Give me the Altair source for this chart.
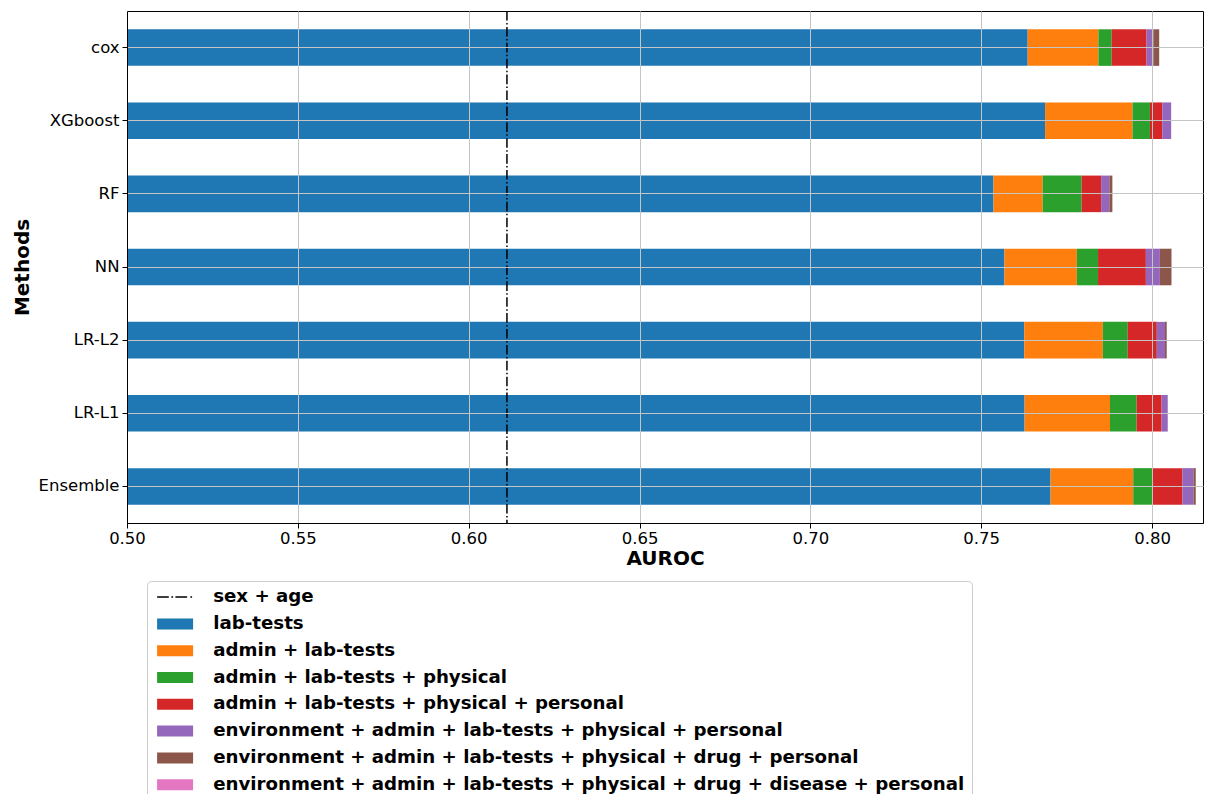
import altair as alt
import pandas as pd

methods = ["cox", "XGboost", "RF", "NN", "LR-L2", "LR-L1", "Ensemble"]

series_names = [
    "sex + age",
    "lab-tests",
    "admin + lab-tests",
    "admin + lab-tests + physical",
    "admin + lab-tests + physical + personal",
    "environment + admin + lab-tests + physical + personal",
    "environment + admin + lab-tests + physical + drug + personal",
    "environment + admin + lab-tests + physical + drug + disease + personal",
]

sex_age = [0.6112]
lab_tests = [0.7636, 0.7687, 0.7536, 0.7568, 0.7626, 0.7627, 0.7703]
admin = [0.7843, 0.7943, 0.7680, 0.7780, 0.7856, 0.7877, 0.7945]
physical = [0.7882, 0.7994, 0.7794, 0.7842, 0.7929, 0.7955, 0.8000]
personal = [0.7984, 0.8030, 0.7851, 0.7982, 0.8014, 0.8028, 0.8089]
environment = [0.8004, 0.8056, 0.7875, 0.8023, 0.8038, 0.8046, 0.8121]
drug = [0.8021, 0.8056, 0.7884, 0.8057, 0.8043, 0.8046, 0.8128]
disease = [0.8021, 0.8056, 0.7884, 0.8057, 0.8043, 0.8046, 0.8128]

colors = ["#000000", "#1f77b4", "#ff7f0e", "#2ca02c", "#d62728",
          "#9467bd", "#8c564b", "#e377c2"]
x_ticks = [0.50, 0.55, 0.60, 0.65, 0.70, 0.75, 0.80]

series_values = [lab_tests, admin, physical, personal, environment, drug, disease]
rows = []
for i, m in enumerate(methods):
    prev = 0.5
    for name, vals in zip(series_names[1:], series_values):
        rows.append({"method": m, "series": name, "x": prev, "x2": vals[i]})
        prev = vals[i]
bars_df = pd.DataFrame(rows)
rule_df = pd.DataFrame({"x": sex_age, "series": [series_names[0]]})

FONT = "DejaVu Sans"

dash_path = "M-1,0H0.95M1.38,0H1.67M2.05,0H4M4.55,0H4.83"
rect_path = "M-1,-0.92H5V0.92H-1Z"
is_sa = "datum.value === 'sex + age'"

legend = alt.Legend(
    orient="none",
    legendX=20,
    legendY=570,
    direction="vertical",
    labelFont=FONT,
    labelFontSize=18.2,
    labelFontWeight="bold",
    labelColor="black",
    labelLimit=1200,
    labelOffset=41,
    rowPadding=7.8,
    padding=7,
    symbolSize=144,
    symbolType=alt.ExprRef(expr=f"{is_sa} ? '{dash_path}' : '{rect_path}'"),
    symbolStrokeColor=alt.ExprRef(expr=f"{is_sa} ? 'black' : 'transparent'"),
    symbolStrokeWidth=alt.ExprRef(expr=f"{is_sa} ? 1.5 : 0"),
    symbolOpacity=1,
    strokeColor="#cccccc",
    cornerRadius=4,
    fillColor="white",
)

x_axis = alt.Axis(
    title="AUROC",
    values=x_ticks,
    format=".2f",
    labelFlush=False,
    labelFont=FONT,
    labelFontSize=16.5,
    labelColor="black",
    labelPadding=2,
    tickSize=5,
    tickColor="black",
    domainColor="black",
    grid=True,
    gridColor="#c4c4c4",
    gridWidth=1,
    titleFont=FONT,
    titleFontSize=20,
    titleFontWeight="bold",
    titleColor="black",
    titlePadding=2,
    zindex=1,
)

y_axis = alt.Axis(
    title="Methods",
    labelFont=FONT,
    labelFontSize=16.5,
    labelColor="black",
    labelPadding=3,
    tickSize=5,
    tickColor="black",
    domainColor="black",
    grid=True,
    gridColor="#c4c4c4",
    gridWidth=1,
    titleFont=FONT,
    titleFontSize=20,
    titleFontWeight="bold",
    titleColor="black",
    titlePadding=6,
    zindex=1,
)

bars = alt.Chart(bars_df).mark_bar().encode(
    x=alt.X("x:Q", axis=x_axis,
            scale=alt.Scale(domain=[0.5, 0.81492], nice=False, zero=False)),
    x2="x2:Q",
    y=alt.Y("method:N", sort=methods, axis=y_axis,
            scale=alt.Scale(paddingInner=0.5, paddingOuter=0.25)),
    color=alt.Color("series:N", title=None, legend=legend,
                    scale=alt.Scale(domain=series_names, range=colors)),
)

rule = alt.Chart(rule_df).mark_rule(
    color="black", strokeWidth=1.5, strokeDash=[9.6, 2.4, 1.5, 2.4]
).encode(x="x:Q")

chart = alt.layer(bars, rule).properties(
    width=1076,
    height=512,
    padding={"left": 119, "top": 3, "right": 1, "bottom": 271},
    autosize="none",
).configure(font=FONT).configure_view(stroke="black", strokeWidth=1)

chart.save("out.html", embed_options={"renderer": "svg", "actions": False})
